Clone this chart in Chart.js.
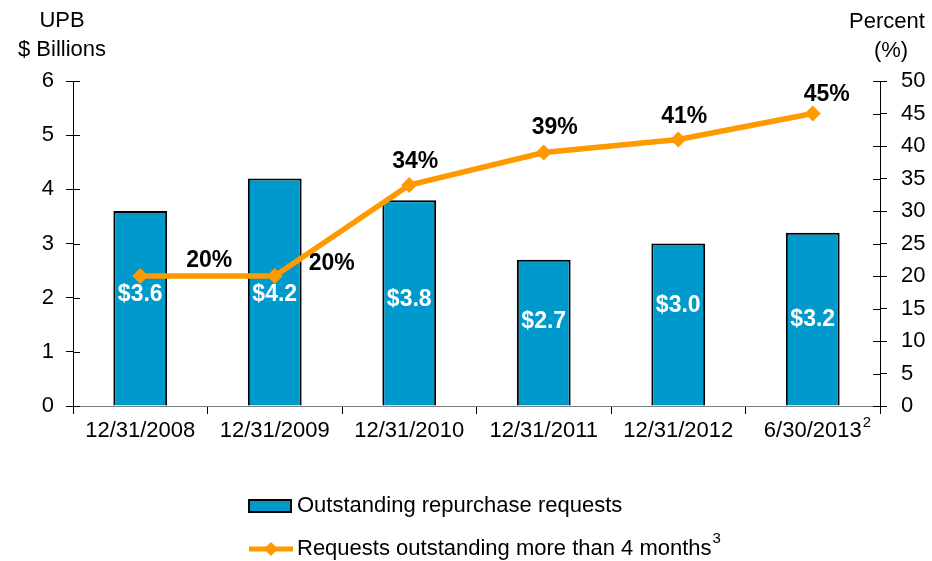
<!DOCTYPE html>
<html>
<head>
<meta charset="utf-8">
<script src="https://cdn.jsdelivr.net/npm/chart.js@4"></script>
<style>
html,body{margin:0;padding:0;background:#fff;}
#wrap{width:932px;height:561px;position:relative;}
</style>
</head>
<body>
<div id="wrap"><canvas id="c" width="932" height="561"></canvas></div>
<script>
const categories = ['12/31/2008','12/31/2009','12/31/2010','12/31/2011','12/31/2012','6/30/2013'];
const categoryNotes = ['','','','','','2'];
const upbBillions = [3.6, 4.2, 3.8, 2.7, 3.0, 3.2];
const upbLabelLevel = [2.05, 2.05, 1.97, 1.55, 1.86, 1.59];
const pctOver4Months = [20, 20, 34, 39, 41, 45];
const leftTicks = [0,1,2,3,4,5,6];
const rightTicks = [0,5,10,15,20,25,30,35,40,45,50];
const seriesNames = ['Outstanding repurchase requests','Requests outstanding more than 4 months'];
const seriesNotes = ['','3'];

const FONT = '"Liberation Sans", Arial, sans-serif';
const BLUE = '#0099CC';
const ORANGE = '#FF9900';

const pctLabelOffsets = [[69,-15],[57,-12],[6,-23],[11,-25],[6,-23],[14,-19]];

const extras = {
  id:'extras',
  afterDraw(chart){
    const ctx = chart.ctx;
    const ca = chart.chartArea;
    const x = chart.scales.x, yl = chart.scales.y, yr = chart.scales.y2;
    ctx.save();
    // inner halves of axis ticks
    ctx.strokeStyle = '#000'; ctx.lineWidth = 1;
    leftTicks.forEach(v=>{const py=Math.round(yl.getPixelForValue(v))+0.5;ctx.beginPath();ctx.moveTo(ca.left,py);ctx.lineTo(ca.left+7,py);ctx.stroke();});
    rightTicks.forEach(v=>{const py=Math.round(yr.getPixelForValue(v))+0.5;ctx.beginPath();ctx.moveTo(ca.right-7,py);ctx.lineTo(ca.right,py);ctx.stroke();});
    // axis titles
    ctx.fillStyle='#000';
    ctx.font='22px '+FONT;
    ctx.textAlign='center'; ctx.textBaseline='middle';
    ctx.fillText('UPB', ca.left-11, 21);
    ctx.fillText('$ Billions', ca.left-11, 50);
    ctx.fillText('Percent', ca.right+7, 22);
    ctx.fillText('(%)', ca.right+11, 51);
    // superscripts on category labels
    ctx.textAlign='left'; ctx.textBaseline='middle';
    categories.forEach((c,i)=>{
      if(!categoryNotes[i]) return;
      ctx.font='22px '+FONT;
      const w=ctx.measureText(c).width;
      ctx.font='15px '+FONT;
      ctx.fillText(categoryNotes[i], x.getPixelForValue(i)+w/2+1, ca.bottom+17);
    });
    // bar value labels
    ctx.font='bold 23px '+FONT; ctx.fillStyle='#fff'; ctx.textAlign='center'; ctx.textBaseline='middle';
    upbBillions.forEach((v,i)=>{
      ctx.fillText('$'+v.toFixed(1), x.getPixelForValue(i), yl.getPixelForValue(upbLabelLevel[i]));
    });
    // percent labels
    ctx.fillStyle='#000';
    pctOver4Months.forEach((v,i)=>{
      ctx.fillText(v+'%', x.getPixelForValue(i)+pctLabelOffsets[i][0], yr.getPixelForValue(v)+pctLabelOffsets[i][1]);
    });
    // legend
    const lx = 249, ly1 = 506, ly2 = 549;
    ctx.fillStyle=BLUE; ctx.strokeStyle='#000'; ctx.lineWidth=2;
    ctx.fillRect(lx, ly1-6, 42, 12); ctx.strokeRect(lx, ly1-6, 42, 12);
    ctx.strokeStyle=ORANGE; ctx.lineWidth=5;
    ctx.beginPath(); ctx.moveTo(lx, ly2); ctx.lineTo(lx+44, ly2); ctx.stroke();
    ctx.fillStyle=ORANGE;
    ctx.beginPath(); ctx.moveTo(lx+22, ly2-7); ctx.lineTo(lx+29, ly2); ctx.lineTo(lx+22, ly2+7); ctx.lineTo(lx+15, ly2); ctx.closePath(); ctx.fill();
    ctx.fillStyle='#000'; ctx.textAlign='left';
    [ly1, ly2].forEach((yy,i)=>{
      ctx.font='22px '+FONT;
      ctx.fillText(seriesNames[i], lx+48, yy);
      if(seriesNotes[i]){
        const w=ctx.measureText(seriesNames[i]).width;
        ctx.font='15px '+FONT;
        ctx.fillText(seriesNotes[i], lx+48+w+1, yy-10);
      }
    });
    ctx.restore();
  }
};

new Chart(document.getElementById('c'), {
  data:{
    labels: categories,
    datasets:[
      {type:'line', label:seriesNames[1], data:pctOver4Months, yAxisID:'y2', borderColor:ORANGE, backgroundColor:ORANGE,
       borderWidth:5.5, pointStyle:'rectRot', pointRadius:8, pointHoverRadius:8, pointBorderWidth:0, tension:0, order:0},
      {type:'bar', label:seriesNames[0], data:upbBillions, yAxisID:'y', backgroundColor:BLUE, borderColor:'#000', borderWidth:2,
       categoryPercentage:0.4, barPercentage:1.0, order:1}
    ]
  },
  options:{
    responsive:false, animation:false, devicePixelRatio:1,
    layout:{padding:{top:81, left:0, right:0, bottom:0}},
    plugins:{legend:{display:false}, tooltip:{enabled:false}},
    scales:{
      x:{offset:true, grid:{offset:true, drawOnChartArea:false, drawTicks:true, tickLength:8, color:'#000'},
         border:{color:'#808080', width:1},
         ticks:{color:'#000', font:{family:FONT, size:22}, padding:4, maxRotation:0, autoSkip:false},
         afterFit(s){s.height=155;}},
      y:{position:'left', min:0, max:6, grid:{drawOnChartArea:false, tickLength:7, color:'#000'},
         border:{color:'#000', width:1},
         ticks:{stepSize:1, color:'#000', font:{family:FONT, size:22}, padding:12},
         afterFit(s){s.width=73;}},
      y2:{position:'right', min:0, max:50, grid:{drawOnChartArea:false, tickLength:7, color:'#000'},
         border:{color:'#000', width:1},
         ticks:{stepSize:5, color:'#000', font:{family:FONT, size:22}, padding:14},
         afterFit(s){s.width=52;}}
    }
  },
  plugins:[extras]
});
</script>
</body>
</html>
